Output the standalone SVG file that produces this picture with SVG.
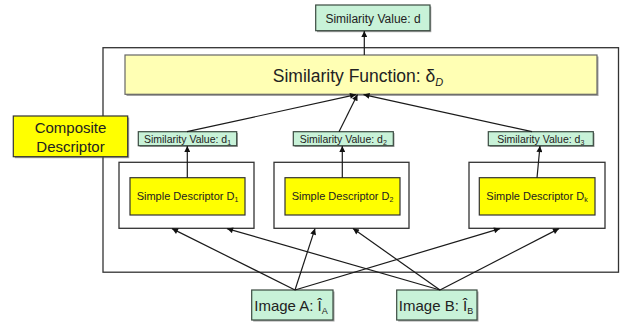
<svg xmlns="http://www.w3.org/2000/svg" width="621" height="322" viewBox="0 0 621 322">
<defs>
<marker id="ah" viewBox="0 0 10 10" refX="10" refY="5" markerWidth="7" markerHeight="6" markerUnits="userSpaceOnUse" orient="auto">
<path d="M0,0 L10,5 L0,10 z" fill="#111"/>
</marker>
</defs>
<style>
text{font-family:"Liberation Sans",Arial,sans-serif;fill:#222;text-anchor:middle}
.green{fill:#c8f2d8;stroke:#3a4a40;stroke-width:1.2}
.shadow{fill:#555;opacity:0.55}
.yel{fill:#ffff00;stroke:#333;stroke-width:1.2}
.lyel{fill:#ffffb4;stroke:#666;stroke-width:1.2}
.frame{fill:#fff;stroke:#333;stroke-width:1.3}
.conn line{stroke:#1a1a1a;stroke-width:1.2;marker-end:url(#ah)}
.sv{font-size:10.5px}
.sd{font-size:11px}
</style>
<rect width="621" height="322" fill="#fff"/>

<g id="outer"><rect class="frame" x="103" y="47.7" width="515.5" height="224.5"/></g>

<g id="simFunc">
<rect class="shadow" x="126.5" y="56.5" width="472" height="39.5"/>
<rect class="lyel" x="125" y="55" width="472" height="39.3"/>
<text x="358" y="82" style="font-size:17.5px">Similarity Function: δ<tspan dy="4" style="font-size:11px;font-style:italic">D</tspan></text>
</g>

<g id="simValueTop">
<rect class="shadow" x="317" y="6.5" width="114.3" height="25.7"/>
<rect class="green" x="315.7" y="5" width="114.3" height="25.7"/>
<text x="373" y="22.5" style="font-size:12px">Similarity  Value: d</text>
</g>

<g id="composite">
<rect class="shadow" x="14.8" y="117.5" width="114.4" height="40.7"/>
<rect class="yel" x="13.3" y="116" width="114.4" height="40.7"/>
<text x="70.5" y="133.3" style="font-size:15px">Composite</text>
<text x="70.5" y="151.7" style="font-size:15px">Descriptor</text>
</g>

<g id="simValue1">
<rect class="shadow" x="139.5" y="133" width="98.4" height="14"/>
<rect class="green" x="138.3" y="131.7" width="98.4" height="14"/>
<text class="sv" x="187.5" y="142.6">Similarity  Value: d<tspan dy="2" style="font-size:7px">1</tspan></text>
</g>
<g id="simValue2">
<rect class="shadow" x="294.5" y="133" width="100" height="14"/>
<rect class="green" x="293.3" y="131.7" width="100" height="14"/>
<text class="sv" x="343.3" y="142.6">Similarity  Value: d<tspan dy="2" style="font-size:7px">2</tspan></text>
</g>
<g id="simValue3">
<rect class="shadow" x="489.5" y="133" width="105" height="14"/>
<rect class="green" x="488.3" y="131.7" width="105" height="14"/>
<text class="sv" x="540.8" y="142.6">Similarity  Value: d<tspan dy="2" style="font-size:7px">3</tspan></text>
</g>

<g id="simpleBox1">
<rect class="frame" x="119" y="162.3" width="135" height="66"/>
<rect class="yel" x="130" y="177.7" width="115" height="37.3"/>
<text class="sd" x="187.5" y="200">Simple Descriptor D<tspan dy="2" style="font-size:7px">1</tspan></text>
</g>
<g id="simpleBox2">
<rect class="frame" x="274" y="162.3" width="135" height="66"/>
<rect class="yel" x="285" y="177.7" width="115" height="37.3"/>
<text class="sd" x="342.5" y="200">Simple Descriptor D<tspan dy="2" style="font-size:7px">2</tspan></text>
</g>
<g id="simpleBoxK">
<rect class="frame" x="469" y="162.3" width="136" height="66"/>
<rect class="yel" x="479.3" y="177.7" width="115.7" height="37.3"/>
<text class="sd" x="537" y="200">Simple Descriptor D<tspan dy="2" style="font-size:7px">k</tspan></text>
</g>

<g id="imageA">
<rect class="shadow" x="253.2" y="291.5" width="81.3" height="30"/>
<rect class="green" x="251.7" y="290" width="81.3" height="30"/>
<text x="291" y="310.5" style="font-size:15px">Image A: Î<tspan dy="3" style="font-size:9px">A</tspan></text>
</g>
<g id="imageB">
<rect class="shadow" x="398.2" y="291.5" width="80.3" height="30"/>
<rect class="green" x="396.7" y="290" width="80.3" height="30"/>
<text x="436" y="310.5" style="font-size:15px">Image B: Î<tspan dy="3" style="font-size:9px">B</tspan></text>
</g>

<g id="connectors" class="conn">
<line x1="364.3" y1="55" x2="364.3" y2="31"/>
<line x1="187" y1="131.7" x2="356" y2="94.6"/>
<line x1="339" y1="131.7" x2="357.5" y2="94.6"/>
<line x1="532" y1="131.7" x2="363.5" y2="94.6"/>
<line x1="187.3" y1="177.7" x2="187.3" y2="146"/>
<line x1="342.3" y1="177.7" x2="342.3" y2="146"/>
<line x1="537" y1="177.7" x2="540" y2="146"/>
<line x1="295" y1="290" x2="172" y2="228.6"/>
<line x1="295" y1="290" x2="315" y2="228.6"/>
<line x1="295" y1="290" x2="500" y2="228.6"/>
<line x1="440" y1="290" x2="227" y2="228.6"/>
<line x1="440" y1="290" x2="353" y2="228.6"/>
<line x1="440" y1="290" x2="559" y2="228.6"/>
</g>
</svg>
